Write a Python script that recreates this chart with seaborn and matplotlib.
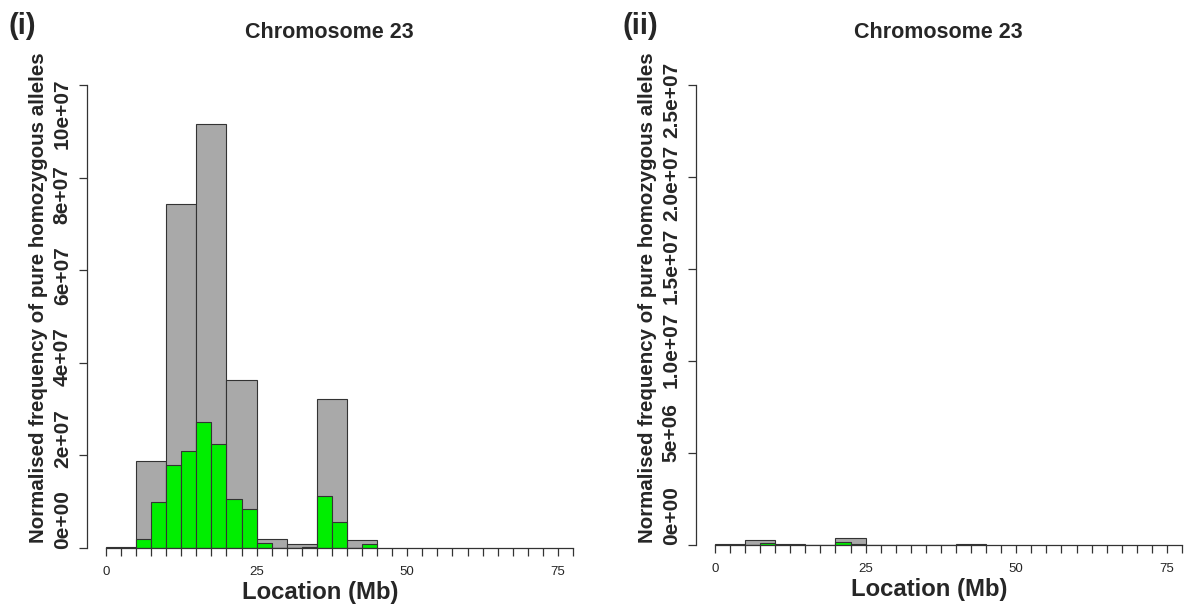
import numpy as np
import pandas as pd
import seaborn as sns
import matplotlib
matplotlib.use("Agg")
import matplotlib.pyplot as plt

sns.set_style("white")
plt.rcParams["font.family"] = ["Liberation Sans", "DejaVu Sans"]

# bin edges (Mb)
coarse_edges = np.arange(0, 45.1, 5)     # grey bins, 5 Mb
fine_edges = np.arange(0, 45.1, 2.5)     # green bins, 2.5 Mb

# panel (i)
grey_i = [0.3e6, 1.88e7, 7.42e7, 9.15e7, 3.63e7, 2.0e6, 0.9e6, 3.21e7, 1.8e6]
green_i = [0.1e6, 0.1e6, 2.0e6, 1.0e7, 1.79e7, 2.09e7, 2.72e7, 2.24e7, 1.05e7,
           0.85e7, 1.1e6, 0.05e6, 0.05e6, 0.3e6, 1.12e7, 0.57e7, 0.05e6, 0.9e6]
# panel (ii)
grey_ii = [0.3e5, 2.7e5, 0.8e5, 0.0, 3.8e5, 0.1e5, 0.0, 0.0, 0.7e5]
green_ii = [0.0, 0.0, 0.0, 1.0e5, 0.1e5, 0.0, 0.0, 0.0, 1.5e5,
            0.6e5, 0.0, 0.0, 0.0, 0.0, 0.0, 0.0, 0.1e5, 0.1e5]

yticks_i = [0, 2e7, 4e7, 6e7, 8e7, 10e7]
ylabels_i = ["0e+00", "2e+07", "4e+07", "6e+07", "8e+07", "10e+07"]
yticks_ii = [0, 5e6, 1e7, 1.5e7, 2e7, 2.5e7]
ylabels_ii = ["0e+00", "5e+06", "1.0e+07", "1.5e+07", "2.0e+07", "2.5e+07"]

GREY = "#A9A9A9"
GREEN = "#00EE00"
EDGE = "#333333"

fig = plt.figure(figsize=(11.87, 6.05), dpi=100)
ax1 = fig.add_axes([87 / 1187, 57 / 605, 489 / 1187, 478 / 605])
ax2 = fig.add_axes([696 / 1187, 60 / 605, 489 / 1187, 475 / 605])


def draw_panel(ax, grey, green, yticks, ylabels, ytop, tag, ylab_y, tag_x, lab_shift, lab_scale):
    cdf = pd.DataFrame({"x": coarse_edges[:-1] + 2.5, "w": grey})
    fdf = pd.DataFrame({"x": fine_edges[:-1] + 1.25, "w": green})
    sns.histplot(data=cdf, x="x", weights="w", binwidth=5, binrange=(0, 45), ax=ax,
                 color=GREY, edgecolor=EDGE, linewidth=0.8, alpha=1)
    sns.histplot(data=fdf, x="x", weights="w", binwidth=2.5, binrange=(0, 45), ax=ax,
                 color=GREEN, edgecolor=EDGE, linewidth=0.8, alpha=1)
    ax.set_xlim(-3.15, 78)
    ax.set_ylim(0, ytop)
    for s in ["top", "right"]:
        ax.spines[s].set_visible(False)
    ax.spines["left"].set_bounds(0, yticks[-1])
    ax.spines["bottom"].set_bounds(0, 77.5)
    for s in ["left", "bottom"]:
        ax.spines[s].set_color("#333333")
        ax.spines[s].set_linewidth(0.9)
    ax.set_xticks(np.arange(0, 77.6, 2.5))
    ax.set_xticklabels([str(int(v)) if v % 25 == 0 else "" for v in np.arange(0, 77.6, 2.5)],
                       fontsize=9.5)
    ax.set_yticks(yticks)
    ax.tick_params(axis="both", direction="out", length=6, width=0.9, color="#333333",
                   left=True, bottom=True)
    ax.tick_params(axis="y", labelleft=False)
    ax.tick_params(axis="x", pad=7)
    # y tick labels sit a little inward from the end ticks, as in the original
    tr = ax.get_yaxis_transform()
    for t, lab in zip(yticks, ylabels):
        ax.text(-0.031, yticks[-1] * lab_shift + t * lab_scale, lab, transform=tr,
                rotation=90, ha="right", va="center", fontsize=15, fontweight="bold",
                color="#262626")
    ax.set_xlabel("Location (Mb)", fontsize=17.2, fontweight="bold")
    ax.xaxis.set_label_coords((35.5 + 3.15) / 81.15, -0.07)
    ax.set_ylabel("Normalised frequency of pure homozygous alleles", fontsize=14.8,
                  fontweight="bold")
    ax.yaxis.set_label_coords(-0.08, ylab_y)
    ax.set_title("Chromosome 23", fontsize=15.5, fontweight="bold", x=(37 + 3.15) / 81.15,
                 y=1.0, pad=23)
    fig.text(tag_x / 1187, 1 - 12 / 605, tag, fontsize=21, fontweight="bold",
             ha="left", va="top")


draw_panel(ax1, grey_i, green_i, yticks_i, ylabels_i, 1.0324e8, "(i)", 0.524, 8,
           0.0615, 0.877)
draw_panel(ax2, grey_ii, green_ii, yticks_ii, ylabels_ii, 2.58e7, "(ii)", 0.521, 622,
           0.063, 0.904)

fig.savefig("out.png", dpi=100)
